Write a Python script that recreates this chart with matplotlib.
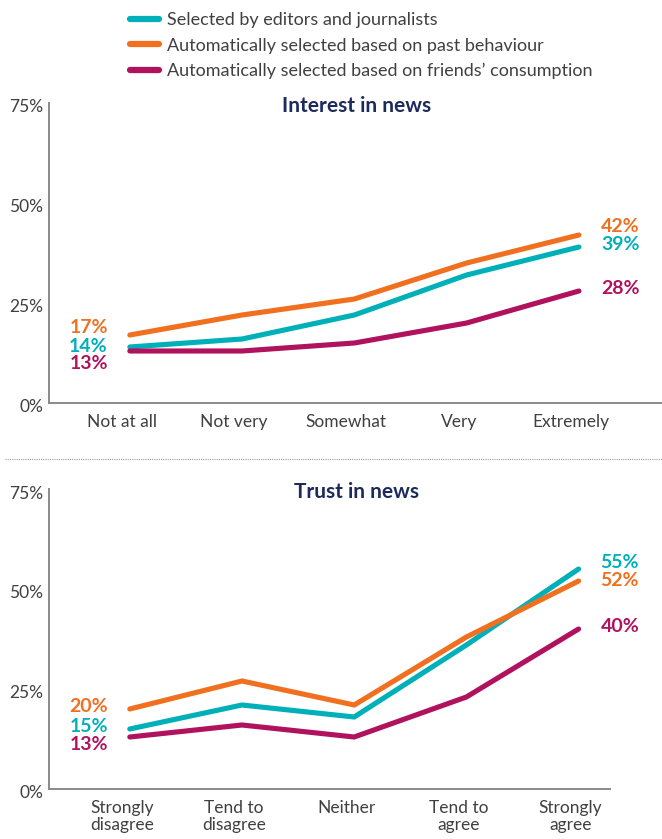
import matplotlib
matplotlib.use('Agg')
import matplotlib.pyplot as plt
import matplotlib.transforms as mtransforms
from matplotlib.lines import Line2D

plt.rcParams['font.family'] = ['Lato', 'DejaVu Sans']

# Data
interest_cats = ['Not at all', 'Not very', 'Somewhat', 'Very', 'Extremely']
interest_editors = [14, 16, 22, 32, 39]
interest_past = [17, 22, 26, 35, 42]
interest_friends = [13, 13, 15, 20, 28]

trust_cats = ['Strongly\ndisagree', 'Tend to\ndisagree', 'Neither', 'Tend to\nagree', 'Strongly\nagree']
trust_editors = [15, 21, 18, 36, 55]
trust_past = [20, 27, 21, 38, 52]
trust_friends = [13, 16, 13, 23, 40]

series_names = ['Selected by editors and journalists',
                'Automatically selected based on past behaviour',
                'Automatically selected based on friends\u2019 consumption']
colors = ['#00b0b9', '#f07020', '#b0125e']
yticks = [0, 25, 50, 75]

W, H = 662, 839
fig = plt.figure(figsize=(W / 100, H / 100), dpi=100)


def px_axes(x0, x1, ytop, ybot):
    return fig.add_axes([x0 / W, 1 - ybot / H, (x1 - x0) / W, (ybot - ytop) / H])


def draw_panel(ax, cats, series, title, xmax, title_x, offsets_left, offsets_right):
    x = list(range(len(cats)))
    for vals, c in zip(series, colors):
        ax.plot(x, vals, color=c, lw=3.7, solid_capstyle='round', solid_joinstyle='miter')
    for vals, c, dl, dr in zip(series, colors, offsets_left, offsets_right):
        ax.annotate(f'{vals[0]}%', xy=(x[0], vals[0]), xytext=(-22, dl),
                    textcoords='offset pixels', ha='right', va='center',
                    color=c, fontsize=14, fontweight='bold')
        ax.annotate(f'{vals[-1]}%', xy=(x[-1], vals[-1]), xytext=(22, dr),
                    textcoords='offset pixels', ha='left', va='center',
                    color=c, fontsize=14, fontweight='bold')
    ax.set_xlim(-0.72, xmax)
    ax.set_ylim(0, 75)
    ax.set_xticks(x)
    ax.set_xticklabels(cats, fontsize=12.5, color='#404040', linespacing=1.1)
    ax.set_yticks(yticks)
    ax.set_yticklabels([f'{t}%' for t in yticks], fontsize=12.5, color='#404040')
    ax.tick_params(length=0, pad=4)
    ax.tick_params(axis='x', pad=8)
    xshift = mtransforms.ScaledTranslation(-8 / 100, 0, fig.dpi_scale_trans)
    for lab in ax.get_xticklabels():
        lab.set_transform(lab.get_transform() + xshift)
    yshift = mtransforms.ScaledTranslation(0, -3 / 100, fig.dpi_scale_trans)
    for lab in ax.get_yticklabels():
        lab.set_transform(lab.get_transform() + yshift)
    for s in ['top', 'right']:
        ax.spines[s].set_visible(False)
    for s in ['left', 'bottom']:
        ax.spines[s].set_color('#8a8a8a')
        ax.spines[s].set_linewidth(1.4)
    ax.text(title_x, 0.99, title, transform=ax.transAxes, ha='center', va='center',
            fontsize=15, fontweight='bold', color='#1d2b5c')


ax1 = px_axes(49, 662, 103, 403)
draw_panel(ax1, interest_cats, [interest_editors, interest_past, interest_friends],
           'Interest in news', 4.74, (357 - 49) / (662 - 49), [0, 7, -13], [2, 8, 3])

ax2 = px_axes(49, 610, 489, 789)
draw_panel(ax2, trust_cats, [trust_editors, trust_past, trust_friends],
           'Trust in news', 4.28, (357 - 49) / (610 - 49), [2, 2, -7], [6, 1, 2])

# dotted separator
fig.add_artist(Line2D([5 / W, 1], [1 - 459 / H] * 2, transform=fig.transFigure,
                      color='#9a9a9a', lw=0.8, ls=(0, (1, 1))))

# legend
handles = [Line2D([0], [0], color=c, lw=4.5, solid_capstyle='round') for c in colors]
fig.legend(handles, series_names, loc='upper left',
           bbox_to_anchor=(114 / W, 1 + 4 / H), frameon=False, fontsize=13,
           handlelength=1.6, handletextpad=0.45, labelspacing=0.52,
           labelcolor='#404040')

fig.savefig('out.png', dpi=100)
